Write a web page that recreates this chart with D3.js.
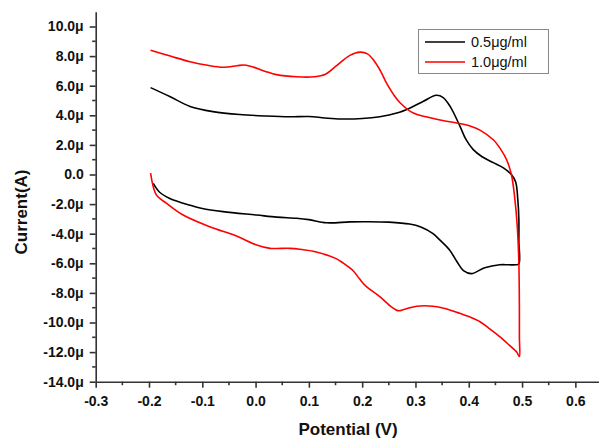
<!DOCTYPE html>
<html><head><meta charset="utf-8">
<script src="https://cdn.jsdelivr.net/npm/d3@7"></script>
<style>body{margin:0;background:#fff}svg{display:block}</style>
</head><body>
<svg id="c" width="599" height="439"></svg>
<script>
// Cyclic voltammograms, potential (V) and current (μA)
const seriesNames = ["0.5μg/ml", "1.0μg/ml"];
const seriesColors = ["#000000", "#ff0000"];
const potential05 = [-0.197,-0.16,-0.123,-0.08,-0.03,0.02,0.064,0.1,0.13,0.16,0.2,0.233,0.265,0.29,0.315,0.339,0.352,0.365,0.383,0.395,0.408,0.425,0.446,0.465,0.48,0.488,0.492,0.494,0.494,0.494,
  0.488,0.475,0.458,0.43,0.405,0.39,0.378,0.364,0.345,0.333,0.31,0.289,0.25,0.208,0.177,0.133,0.1,0.077,0.04,0.002,-0.061,-0.1,-0.123,-0.161,-0.18,-0.192];
const current05 = [5.87,5.25,4.6,4.25,4.05,3.95,3.9,3.92,3.82,3.75,3.78,3.9,4.15,4.5,4.95,5.35,5.2,4.6,3.3,2.35,1.7,1.2,0.8,0.45,0.0,-0.5,-1.7,-3.0,-4.5,-6.05,
  -6.1,-6.1,-6.1,-6.3,-6.7,-6.5,-5.9,-5.1,-4.4,-4.0,-3.55,-3.35,-3.22,-3.19,-3.2,-3.26,-3.05,-2.96,-2.88,-2.74,-2.51,-2.3,-2.08,-1.62,-1.2,-0.6];
const potential10 = [-0.197,-0.16,-0.123,-0.09,-0.061,-0.035,-0.023,-0.01,0.002,0.02,0.039,0.077,0.11,0.13,0.152,0.177,0.196,0.21,0.222,0.235,0.246,0.258,0.271,0.296,0.32,0.346,0.383,0.405,0.421,0.446,0.46,0.471,0.48,0.486,0.491,0.494,0.495,0.495,0.495,
  0.49,0.475,0.458,0.44,0.421,0.4,0.383,0.355,0.333,0.302,0.28,0.267,0.255,0.233,0.208,0.195,0.183,0.165,0.152,0.114,0.083,0.064,0.04,0.027,0.002,-0.036,-0.086,-0.136,-0.167,-0.186,-0.197];
const current10 = [8.4,8.0,7.62,7.38,7.25,7.35,7.4,7.32,7.18,6.95,6.75,6.6,6.6,6.75,7.35,8.05,8.27,8.15,7.7,6.95,6.15,5.45,4.85,4.15,3.9,3.68,3.45,3.25,3.0,2.35,1.7,1.0,0.0,-1.5,-3.5,-6.0,-9.0,-11.0,-12.3,
  -12.0,-11.5,-10.96,-10.45,-9.95,-9.6,-9.38,-9.05,-8.9,-8.9,-9.1,-9.2,-8.95,-8.25,-7.58,-7.05,-6.5,-6.0,-5.7,-5.24,-5.05,-4.99,-5.0,-4.99,-4.76,-4.16,-3.53,-2.74,-1.95,-1.39,0.1];
const xTicks = [-0.3,-0.2,-0.1,0.0,0.1,0.2,0.3,0.4,0.5,0.6];
const xTickLabels = ["-0.3","-0.2","-0.1","0.0","0.1","0.2","0.3","0.4","0.5","0.6"];
const yTicks = [10,8,6,4,2,0,-2,-4,-6,-8,-10,-12,-14];
const yTickLabels = ["10.0μ","8.0μ","6.0μ","4.0μ","2.0μ","0.0","-2.0μ","-4.0μ","-6.0μ","-8.0μ","-10.0μ","-12.0μ","-14.0μ"];

const svg = d3.select("#c");
const x = d3.scaleLinear().domain([-0.3, 0.65]).range([95.7, 602]);
const y = d3.scaleLinear().domain([-14, 11]).range([381.7, 11.7]);
const font = "'Liberation Sans', Arial, sans-serif";

// minor ticks
const xMinor = d3.range(-0.25, 0.65, 0.1);
const yMinor = d3.range(-13, 11, 2);
const gx = svg.append("g").attr("transform", `translate(0,${y(-14)})`);
gx.call(d3.axisBottom(x).tickValues(xTicks).tickFormat((d,i)=>xTickLabels[i]).tickSize(6).tickSizeOuter(0));
gx.selectAll("line.minor").data(xMinor).enter().append("line").attr("class","minor")
  .attr("x1", d=>x(d)).attr("x2", d=>x(d)).attr("y1",0).attr("y2",3.5).attr("stroke","#333").attr("stroke-width",1.6);
const gy = svg.append("g").attr("transform", `translate(${x(-0.3)},0)`);
gy.call(d3.axisLeft(y).tickValues(yTicks).tickFormat((d,i)=>yTickLabels[i]).tickSize(6).tickSizeOuter(0));
gy.selectAll("line.minor").data(yMinor).enter().append("line").attr("class","minor")
  .attr("y1", d=>y(d)).attr("y2", d=>y(d)).attr("x1",0).attr("x2",-3.5).attr("stroke","#333").attr("stroke-width",1.6);
[gx, gy].forEach(g => {
  g.select(".domain").attr("stroke","#333").attr("stroke-width",1.6);
  g.selectAll(".tick line").attr("stroke","#333").attr("stroke-width",1.6);
  g.selectAll(".tick text").attr("font-family",font).attr("font-weight","bold").attr("font-size",14).attr("fill","#111");
});
gx.selectAll(".tick text").attr("y",12).attr("dy","0.85em");
gy.selectAll(".tick text").attr("x",-12);

// axis titles
svg.append("text").attr("x",348).attr("y",435).attr("text-anchor","middle")
  .attr("font-family",font).attr("font-weight","bold").attr("font-size",17).attr("fill","#111").text("Potential (V)");
svg.append("text").attr("transform","translate(27,212) rotate(-90)").attr("text-anchor","middle")
  .attr("font-family",font).attr("font-weight","bold").attr("font-size",17).attr("fill","#111").text("Current(A)");

// curves
const line = d3.line().x(d=>x(d[0])).y(d=>y(d[1])).curve(d3.curveCatmullRom.alpha(0.5));
const s05 = potential05.map((v,i)=>[v,current05[i]]);
const s10 = potential10.map((v,i)=>[v,current10[i]]);
[s05, s10].forEach((s,i)=>{
  svg.append("path").attr("d", line(s)).attr("fill","none").attr("stroke",seriesColors[i]).attr("stroke-width",1.6).attr("stroke-linejoin","round");
});

// legend
const lg = svg.append("g");
lg.append("rect").attr("x",418.5).attr("y",29.5).attr("width",130).attr("height",44).attr("fill","#fff").attr("stroke","#888").attr("stroke-width",1);
seriesNames.forEach((n,i)=>{
  const yy = 42 + i*20;
  lg.append("line").attr("x1",425).attr("x2",465).attr("y1",yy).attr("y2",yy).attr("stroke",seriesColors[i]).attr("stroke-width",1.6);
  lg.append("text").attr("x",471).attr("y",yy+5).attr("font-family",font).attr("font-size",14.5).attr("fill","#111").text(n);
});
</script>
</body></html>
